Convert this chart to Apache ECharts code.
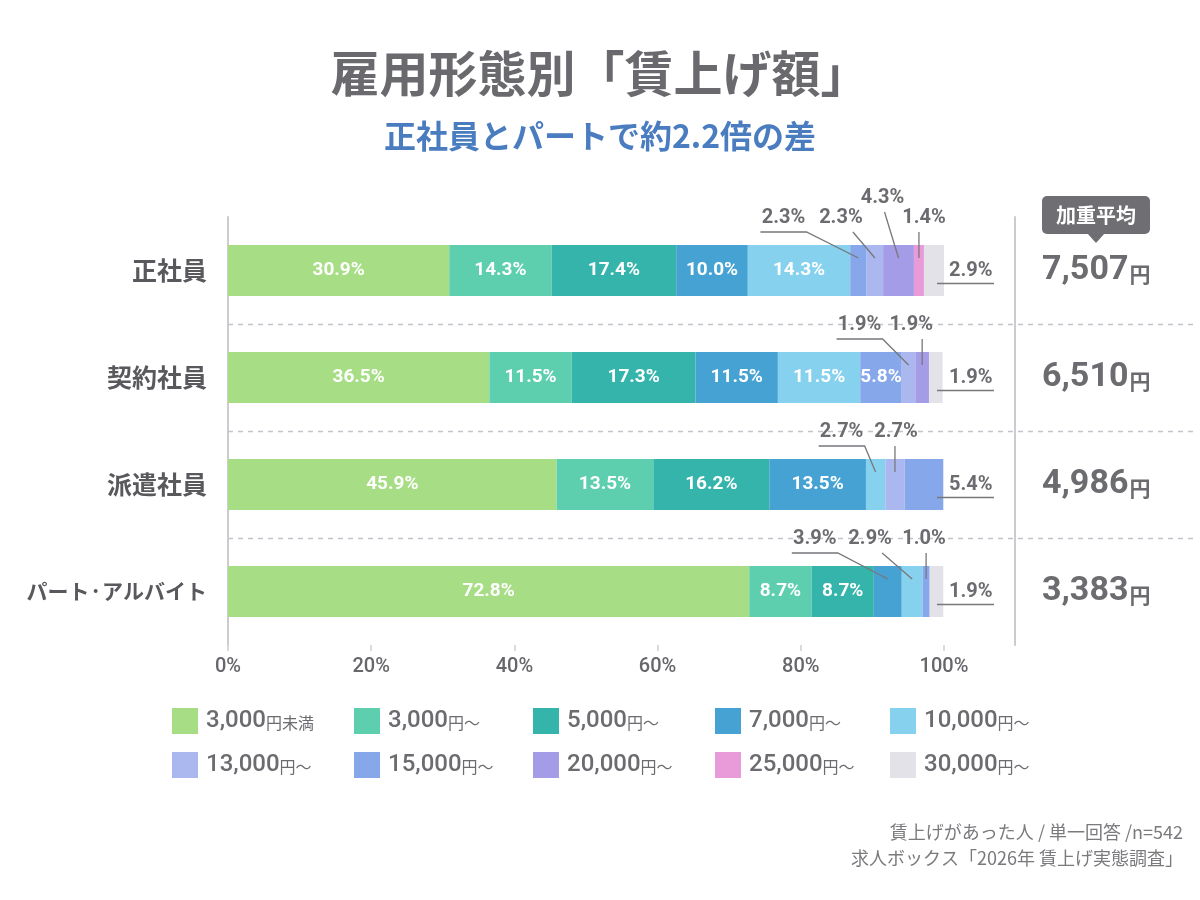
<!DOCTYPE html>
<html>
<head>
<meta charset="utf-8">
<script src="https://cdn.jsdelivr.net/npm/echarts@6/dist/echarts.min.js"></script>
<style>
  html, body { margin: 0; background: #fff; }
  #main { width: 1200px; height: 900px; }
</style>
</head>
<body>
<div id="main"></div>
<script>
// 雇用形態
const categories = ['正社員', '契約社員', '派遣社員', 'パート·アルバイト']
// 賃上げ額の区分
const bands = ['3,000円未満', '3,000円～', '5,000円～', '7,000円～', '10,000円～',
  '13,000円～', '15,000円～', '20,000円～', '25,000円～', '30,000円～']
// 区分ごとの割合(%) 並びは categories と同じ
const under3000 = [30.9, 36.5, 45.9, 72.8]
const from3000 = [14.3, 11.5, 13.5, 8.7]
const from5000 = [17.4, 17.3, 16.2, 8.7]
const from7000 = [10.0, 11.5, 13.5, 3.9]
const from10000 = [14.3, 11.5, 2.7, 2.9]
const from13000 = [2.3, 1.9, 2.7, 0]
const from15000 = [2.3, 5.8, 5.4, 1.0]
const from20000 = [4.3, 1.9, 0, 0]
const from25000 = [1.4, 0, 0, 0]
const from30000 = [2.9, 1.9, 0, 1.9]
// 加重平均(円)
const averages = ['7,507', '6,510', '4,986', '3,383']
// x軸目盛り(%)
const xTicks = [0, 20, 40, 60, 80, 100]

const colors = ['#a7de85', '#5dcfae', '#35b4ab', '#45a2d2', '#86d1ee',
  '#abb8ef', '#86a8ea', '#a49ce6', '#e99bd9', '#e3e2e8']
const values = [under3000, from3000, from5000, from7000, from10000,
  from13000, from15000, from20000, from25000, from30000]

// 正社員・契約社員の棒は 15,000円～ が 13,000円～ より手前に描かれている
const blueFirst = [true, true, false, false]
// 棒の上に出すラベルの位置 [区間中心からのずれ(px), 持ち上げ(px)]
const topLabelLayout = [
  [[-75, 0], [-34, 0], [-16, 20], [5, 0]],
  [[-49, 0], [-11, 0]],
  [[-34, 0], [1, 0]],
  [[-73, 0], [-42, 0], [-2, 0]]
]

const barWidth = 51
const numFont = 'Roboto, "Noto Sans CJK JP", sans-serif'
const jpFont = '"Noto Sans CJK JP", sans-serif'
const textGray = '#6b6b70'

// 積み上げ順
const stack = [0, 1, 2, 3, 4].map(i => ({ name: bands[i], color: colors[i], data: values[i] }))
stack.push({ name: bands[6], color: colors[6], data: from15000.map((v, i) => blueFirst[i] ? v : 0) })
stack.push({ name: bands[5], color: colors[5], data: from13000 })
stack.push({ name: bands[6], color: colors[6], data: from15000.map((v, i) => blueFirst[i] ? 0 : v) })
;[7, 8, 9].forEach(i => stack.push({ name: bands[i], color: colors[i], data: values[i] }))

// 各行の最後の区間（右側にラベルを出す）
const lastIdx = categories.map((c, r) => {
  let last = -1
  stack.forEach((s, i) => { if (s.data[r] > 0) last = i })
  return last
})

const chart = echarts.init(document.getElementById('main'))

const legendCols = [167, 349, 528, 710, 885]
const legendRows = [703, 747]

chart.setOption({
  animation: false,
  backgroundColor: '#fff',
  title: [
    {
      text: '雇用形態別「賃上げ額」',
      left: 'center',
      top: 44,
      textStyle: { fontSize: 49, fontWeight: 'bold', color: '#6a6a6e', fontFamily: jpFont }
    },
    {
      text: '正社員とパートで約2.2倍の差',
      left: 'center',
      top: 115,
      textStyle: { fontSize: 32, fontWeight: 'bold', color: '#4a7cc0', fontFamily: jpFont }
    }
  ],
  legend: bands.map((b, i) => ({
    data: [b],
    left: legendCols[i % 5],
    top: legendRows[Math.floor(i / 5)],
    icon: 'rect',
    itemWidth: 26,
    itemHeight: 26,
    itemGap: 0,
    selectedMode: false,
    formatter: name => {
      const m = name.match(/^([\d,]+)(.*)$/)
      return `{n|${m[1]}}{s|${m[2]}}`
    },
    textStyle: {
      padding: [0, 0, 0, 3],
      rich: {
        n: { fontSize: 24, color: textGray, fontFamily: numFont, fontWeight: 500 },
        s: { fontSize: 16, color: textGray, fontFamily: jpFont, padding: [4, 0, 0, 0] }
      }
    }
  })),
  grid: { left: 228, right: 256, top: 217, height: 428 },
  xAxis: {
    type: 'value',
    min: xTicks[0],
    max: xTicks[xTicks.length - 1],
    interval: xTicks[1] - xTicks[0],
    axisLine: { show: false },
    axisTick: { show: true, length: 6, lineStyle: { color: '#cfcfd4', width: 1.5 } },
    splitLine: { show: false },
    axisLabel: {
      formatter: '{value}%',
      fontSize: 20,
      fontWeight: 500,
      color: '#66666b',
      fontFamily: numFont,
      margin: 12
    }
  },
  yAxis: [
    {
      type: 'category',
      data: categories,
      inverse: true,
      axisLine: { show: true, lineStyle: { color: '#cbcbd0', width: 2 } },
      axisTick: { show: false },
      axisLabel: {
        margin: 21,
        // カタカナの長い項目は詰めて表示
        formatter: v => v.length > 5 ? `{k|${v}}` : `{a|${v}}`,
        rich: {
          a: { fontSize: 25, fontWeight: 'bold', color: '#58585d', fontFamily: jpFont },
          k: { fontSize: 21, fontWeight: 'bold', color: '#58585d', fontFamily: jpFont }
        }
      }
    },
    {
      type: 'category',
      data: categories,
      inverse: true,
      position: 'right',
      offset: 71,
      axisLine: { show: true, lineStyle: { color: '#cbcbd0', width: 2 } },
      axisTick: { show: false },
      axisLabel: {
        margin: 27,
        align: 'left',
        formatter: (v, i) => `{num|${averages[i]}}{yen|円}`,
        rich: {
          num: { fontSize: 34, fontWeight: 'bold', color: textGray, fontFamily: numFont },
          yen: { fontSize: 21, fontWeight: 'bold', color: textGray, fontFamily: jpFont, padding: [8, 0, 0, 1] }
        }
      }
    }
  ],
  series: stack.map((s, si) => ({
    name: s.name,
    type: 'bar',
    stack: 'total',
    barWidth: barWidth,
    itemStyle: { color: s.color },
    label: {
      show: true,
      position: 'inside',
      color: '#fff',
      fontSize: 19,
      fontWeight: 'bold',
      fontFamily: numFont,
      formatter: p => (p.value >= 5 && lastIdx[p.dataIndex] !== si) ? p.value.toFixed(1) + '%' : ''
    },
    data: s.data
  }))
})

// 区切り線・棒の外のラベル・引き出し線
function buildAnnotations() {
  const px = v => chart.convertToPixel({ xAxisIndex: 0 }, v)
  const py = c => chart.convertToPixel({ yAxisIndex: 0 }, c)
  const x0 = px(0)
  const x100 = px(100)
  const lineColor = '#77777c'
  const g = []

  for (let r = 0; r < categories.length - 1; r++) {
    const y = Math.round((py(categories[r]) + py(categories[r + 1])) / 2) + 0.5
    g.push({
      type: 'line',
      shape: { x1: x0, y1: y, x2: 1195, y2: y },
      style: { stroke: '#c3c3cb', lineWidth: 1.5, lineDash: [5, 5] },
      z: 1
    })
  }

  categories.forEach((cat, r) => {
    const yc = py(cat)
    const top = yc - barWidth / 2
    let acc = 0
    let k = 0
    stack.forEach((s, si) => {
      const v = s.data[r]
      const mid = acc + v / 2
      acc += v
      if (!(v > 0)) return
      const sx = px(mid)
      const text = v.toFixed(1) + '%'
      const font = { fontSize: 20, fontWeight: 'bold', fontFamily: numFont, fill: textGray }
      if (si === lastIdx[r]) {
        g.push({
          type: 'text',
          style: Object.assign({ text: text, x: x100 + 5, y: yc, align: 'left', verticalAlign: 'middle' }, font),
          z: 10
        })
        g.push({
          type: 'polyline',
          shape: { points: [[x100 - 7, yc + 13], [x100 + 50, yc + 13]] },
          style: { stroke: lineColor, lineWidth: 1.3 },
          z: 10
        })
      } else if (v < 5) {
        const lay = topLabelLayout[r][k]
        const cx = sx + lay[0]
        const lift = lay[1]
        const ty = top - 27 - lift
        const uy = top - 13 - lift
        const ey = top + 13
        let pts
        if (k === 0) {
          pts = [[cx - 23, uy], [cx + 23, uy], [sx, ey]]
        } else {
          const ax = Math.abs(sx - cx) < 15 ? sx : cx + (lift ? 2 : 12)
          pts = [[ax, uy], [sx, ey]]
        }
        g.push({
          type: 'text',
          style: Object.assign({ text: text, x: cx, y: ty, align: 'center', verticalAlign: 'middle' }, font),
          z: 10
        })
        g.push({
          type: 'polyline',
          shape: { points: pts },
          style: { stroke: lineColor, lineWidth: 1.3 },
          z: 10
        })
        k++
      }
    })
  })

  // 加重平均の吹き出し
  g.push({
    type: 'group',
    z: 10,
    children: [
      { type: 'rect', shape: { x: 1042, y: 196, width: 108, height: 38, r: 5 }, style: { fill: '#6e6e73' } },
      { type: 'polygon', shape: { points: [[1087, 233], [1105, 233], [1096, 243]] }, style: { fill: '#6e6e73' } },
      {
        type: 'text',
        style: {
          text: '加重平均', x: 1096, y: 215, align: 'center', verticalAlign: 'middle',
          fill: '#fff', fontSize: 20, fontWeight: 'bold', fontFamily: jpFont
        }
      }
    ]
  })

  // 出典
  const note = { fill: '#7a7a7e', fontSize: 18, fontFamily: jpFont, align: 'right', verticalAlign: 'middle' }
  g.push({ type: 'text', style: Object.assign({ text: '賃上げがあった人 / 単一回答 /n=542', x: 1183, y: 832 }, note) })
  g.push({ type: 'text', style: Object.assign({ text: '求人ボックス「2026年 賃上げ実態調査」', x: 1183, y: 858 }, note) })

  return g
}

chart.setOption({ graphic: buildAnnotations() })
</script>
</body>
</html>
